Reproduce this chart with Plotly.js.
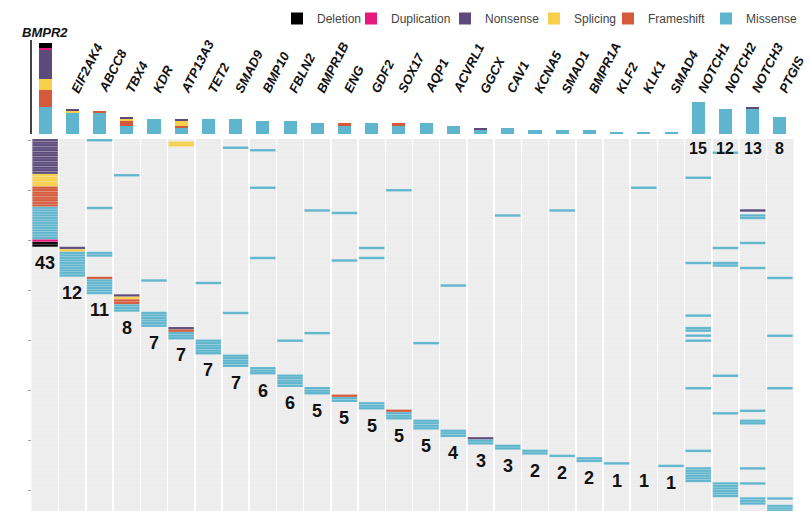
<!DOCTYPE html>
<html><head><meta charset="utf-8">
<script src="https://cdn.plot.ly/plotly-3.0.1.min.js"></script>
<style>html,body{margin:0;padding:0;background:#fff;}#chart{width:810px;height:511px;}</style>
</head><body><div id="chart"></div>
<script>
// ---------- data ----------
const genes = ['BMPR2','EIF2AK4','ABCC8','TBX4','KDR','ATP13A3','TET2','SMAD9','BMP10','FBLN2','BMPR1B','ENG','GDF2','SOX17','AQP1','ACVRL1','GGCX','CAV1','KCNA5','SMAD1','BMPR1A','KLF2','KLK1','SMAD4','NOTCH1','NOTCH2','NOTCH3','PTGIS'];
const patientCounts = [43,12,11,8,7,7,7,7,6,6,5,5,5,5,5,4,3,3,2,2,2,1,1,1,15,12,13,8];
const countsAtTop = ['NOTCH1','NOTCH2','NOTCH3','PTGIS'];

// mutated patient rows per gene: "GENE:row" or "GENE:first-last"
const deletion    = ['BMPR2:41-42'];
const duplication = ['BMPR2:40'];
const nonsense    = ['BMPR2:0-13','EIF2AK4:43','TBX4:62','ATP13A3:75','GGCX:119','NOTCH3:28'];
const splicing    = ['BMPR2:14-18','EIF2AK4:44','TBX4:63','ATP13A3:1-2'];
const frameshift  = ['BMPR2:19-26','ABCC8:55','TBX4:64-65','ATP13A3:76','ENG:102','SOX17:108'];
const missense    = ['BMPR2:27-39','EIF2AK4:45-54',
  'ABCC8:0','ABCC8:27','ABCC8:45-46','ABCC8:56-61',
  'TBX4:14','TBX4:66-68','KDR:56','KDR:69-74','ATP13A3:77-79',
  'TET2:57','TET2:80-85','SMAD9:3','SMAD9:69','SMAD9:86-90',
  'BMP10:4','BMP10:19','BMP10:47','BMP10:91-93','FBLN2:80','FBLN2:94-98',
  'BMPR1B:28','BMPR1B:77','BMPR1B:99-101','ENG:29','ENG:48','ENG:103-104',
  'GDF2:43','GDF2:47','GDF2:105-107','SOX17:20','SOX17:109-111',
  'AQP1:81','AQP1:112-115','ACVRL1:58','ACVRL1:116-118','GGCX:120-121',
  'CAV1:30','CAV1:122-123','KCNA5:124-125','SMAD1:28','SMAD1:126',
  'BMPR1A:127-128','KLF2:129','KLK1:19','SMAD4:130',
  'NOTCH1:15','NOTCH1:49','NOTCH1:70','NOTCH1:75-76','NOTCH1:78','NOTCH1:80','NOTCH1:99','NOTCH1:124','NOTCH1:131-136',
  'NOTCH2:5','NOTCH2:43','NOTCH2:49-50','NOTCH2:94','NOTCH2:109','NOTCH2:137-142',
  'NOTCH3:30-31','NOTCH3:41','NOTCH3:51','NOTCH3:108','NOTCH3:112-113','NOTCH3:131','NOTCH3:137','NOTCH3:143-145',
  'PTGIS:55','PTGIS:78','PTGIS:99','PTGIS:143','PTGIS:146-149'];

const typeNames  = ['Deletion','Duplication','Nonsense','Splicing','Frameshift','Missense'];
const typeCells  = [deletion, duplication, nonsense, splicing, frameshift, missense];
const typeColors = ['#000000','#e8197e','#5c4a7b','#f6cf4b','#d55a3b','#5eb5cd'];
const stackOrder = ['Missense','Frameshift','Splicing','Nonsense','Duplication','Deletion'];

// legend swatch centres (px) — layout only
const legendSwatchX = [297, 371, 465, 554, 628, 726];

// ---------- build ----------
function expand(list){
  const out = [];
  list.forEach(s => {
    const parts = s.split(':');
    const g = genes.indexOf(parts[0]);
    const ab = parts[1].split('-').map(Number);
    const a = ab[0], b = ab.length > 1 ? ab[1] : ab[0];
    for (let r = a; r <= b; r++) out.push({g: g, r: r});
  });
  return out;
}

const traces = [];
const perType = {};
const rowsByGene = genes.map(() => []);
typeNames.forEach((n, k) => {
  const cells = expand(typeCells[k]);
  const arr = new Array(genes.length).fill(0);
  cells.forEach(c => { arr[c.g]++; rowsByGene[c.g].push(c.r); });
  perType[n] = arr;
  traces.push({
    type: 'bar', xaxis: 'x', yaxis: 'y', showlegend: false, hoverinfo: 'skip',
    x: cells.map(c => c.g), y: cells.map(() => 1), base: cells.map(c => c.r - 0.5),
    width: 0.94,
    marker: {color: typeColors[k], line: {color: 'rgba(255,255,255,0.28)', width: 0.5}}
  });
});

const acc = new Array(genes.length).fill(0);
const baseOf = {};
stackOrder.forEach(n => { baseOf[n] = acc.slice(); perType[n].forEach((v, i) => acc[i] += v); });
typeNames.forEach((n, k) => {
  traces.push({
    type: 'bar', xaxis: 'x2', yaxis: 'y2', name: n, hoverinfo: 'skip',
    legend: k === 0 ? 'legend' : 'legend' + (k + 1),
    x: genes.map((_, i) => i), y: perType[n], base: baseOf[n], width: 0.48,
    marker: {color: typeColors[k], line: {width: 0}}
  });
});

const annotations = [];
const numFont = {family: 'Liberation Sans Narrow, Liberation Sans, Arial, sans-serif', size: 18, color: '#111', weight: 'bold'};
let cursor = 0;
genes.forEach((g, i) => {
  let yRow, size = 18;
  if (countsAtTop.includes(g)) { yRow = 3.3; size = 16; }
  else {
    const block = rowsByGene[i].filter(r => r >= cursor);
    if (block.length) cursor = Math.max(...block) + 1;
    yRow = cursor + 5.9;
  }
  annotations.push({xref: 'x', yref: 'y', x: i, y: yRow, text: String(patientCounts[i]),
    showarrow: false, font: Object.assign({}, numFont, {size: size})});
});

const labFont = {family: 'Liberation Sans, Arial, sans-serif', size: 13, color: '#111', weight: 'bold'};
genes.forEach((g, i) => {
  if (i === 0) {
    annotations.push({xref: 'x2', yref: 'y2', x: 0, y: acc[0], yshift: 1, xanchor: 'center', yanchor: 'bottom',
      text: '<i>' + g + '</i>', showarrow: false, font: labFont});
  } else {
    annotations.push({xref: 'x2', yref: 'paper', x: i - 0.24, y: 1 - 98 / 511, xanchor: 'left', yanchor: 'bottom',
      textangle: -63, text: '<i>' + g + '</i>', showarrow: false, font: labFont});
  }
});

const xDom = [31.5 / 810, 793.5 / 810];
const layout = {
  width: 810, height: 511, margin: {l: 0, r: 0, t: 0, b: 0},
  paper_bgcolor: '#ffffff', plot_bgcolor: 'rgba(0,0,0,0)',
  barmode: 'overlay', bargap: 0, hovermode: false,
  font: {family: 'Liberation Sans, Arial, sans-serif', color: '#333'},
  xaxis: {domain: xDom, anchor: 'y', range: [-0.5, genes.length - 0.5], tickmode: 'linear', tick0: 0.5, dtick: 1,
    showgrid: true, gridcolor: '#ffffff', gridwidth: 1.5, showticklabels: false, ticks: '', zeroline: false, showline: false},
  yaxis: {domain: [0, 1 - 139 / 511], anchor: 'x', range: [148.0, -0.5], tickmode: 'linear', tick0: 0, dtick: 20,
    ticks: 'outside', ticklen: 3, tickwidth: 1, tickcolor: '#a0a0a0', showticklabels: false, showgrid: false, zeroline: false,
    minor: {tickmode: 'linear', tick0: 0.5, dtick: 1, showgrid: true, gridcolor: 'rgba(255,255,255,0.35)', gridwidth: 0.5, ticks: ''}},
  xaxis2: {domain: xDom, anchor: 'y2', range: [-0.5, genes.length - 0.5], showgrid: false, showticklabels: false, ticks: '', zeroline: false},
  yaxis2: {domain: [1 - 134 / 511, 1 - 40 / 511], anchor: 'x2', range: [0, 44.57], showline: true, linecolor: '#444', linewidth: 1.5,
    showgrid: false, showticklabels: false, ticks: '', zeroline: false},
  shapes: [{type: 'rect', xref: 'x domain', yref: 'y domain', x0: 0, x1: 1, y0: 0, y1: 1, fillcolor: '#ececec', line: {width: 0}, layer: 'below'}],
  annotations: annotations
};
legendSwatchX.forEach((px, k) => {
  const key = k === 0 ? 'legend' : 'legend' + (k + 1);
  layout[key] = {orientation: 'h', x: (px - 20) / 810, xanchor: 'left', y: 1 - 4 / 511, yanchor: 'top',
    font: {size: 12, color: '#444'}, bgcolor: 'rgba(0,0,0,0)', borderwidth: 0};
});
Plotly.newPlot('chart', traces, layout, {staticPlot: true, displayModeBar: false});
</script></body></html>
